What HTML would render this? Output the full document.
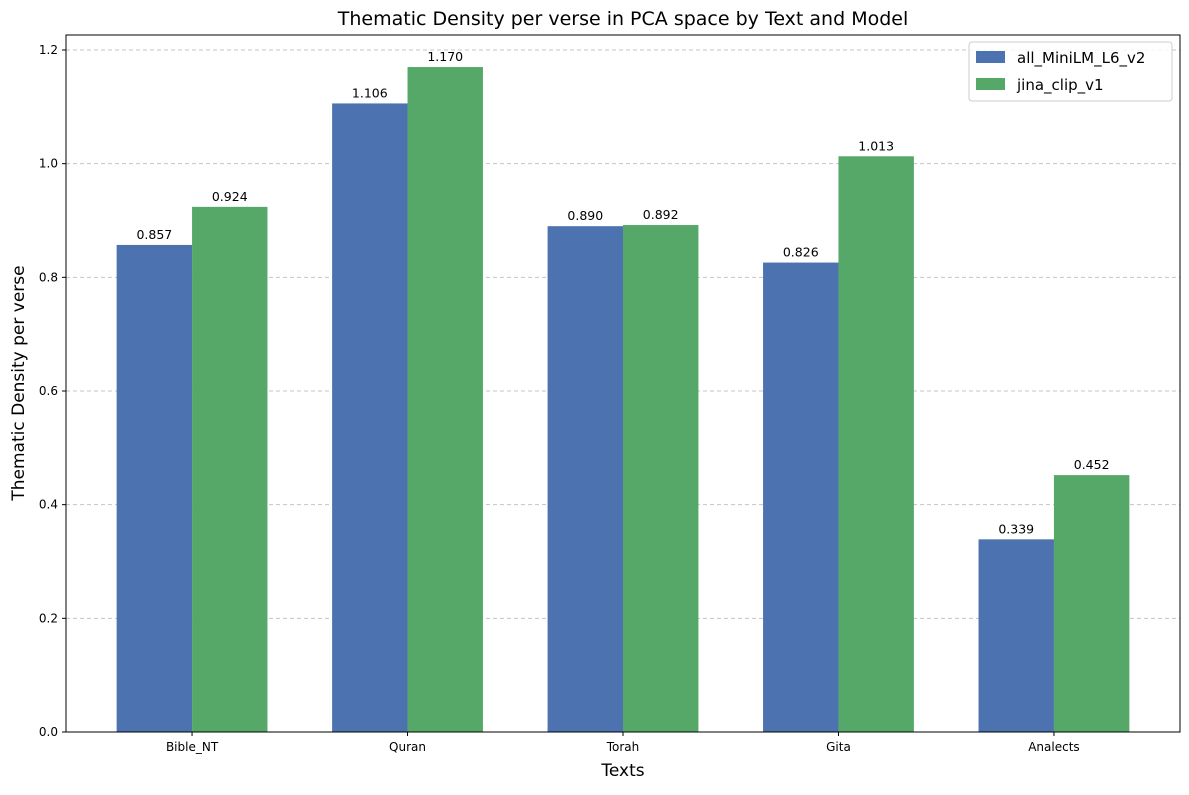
<!DOCTYPE html>
<html><head><meta charset="utf-8"><style>
body{margin:0;background:#fff;font-family:"Liberation Sans","DejaVu Sans",sans-serif;}
svg text{font-family:"DejaVu Sans","Liberation Sans",sans-serif;}
</style></head><body>
<svg id="chart" width="1189" height="790" xmlns="http://www.w3.org/2000/svg">
<rect width="1189" height="790" fill="#fff"/>
<g id="grid"></g><g id="bars"></g><g id="axes"></g>
<text x="623" y="25" font-size="19" text-anchor="middle">Thematic Density per verse in PCA space by Text and Model</text>
<text x="623" y="776" font-size="17" text-anchor="middle">Texts</text>
<text transform="translate(24,383) rotate(-90)" font-size="17" text-anchor="middle">Thematic Density per verse</text>
<g>
<rect x="969" y="42" width="203" height="59" fill="#fff" fill-opacity="0.8" stroke="#ccc" rx="3"/>
<rect x="976" y="51" width="29" height="12" fill="#4c72b0"/>
<text x="1017" y="63" font-size="15">all_MiniLM_L6_v2</text>
<rect x="976" y="78" width="29" height="12" fill="#55a868"/>
<text x="1017" y="90" font-size="15">jina_clip_v1</text>
</g>
</svg>
<script>
const categories=["Bible_NT","Quran","Torah","Gita","Analects"];
const seriesA=[0.857,1.106,0.890,0.826,0.339];
const seriesB=[0.924,1.170,0.892,1.013,0.452];
const yTicks=[0,0.2,0.4,0.6,0.8,1.0,1.2];
const NS="http://www.w3.org/2000/svg";
const L=66,R=1180,T=35,B=732;
const xs=i=>L+(i+0.585)*(R-L)/5.17;
const ys=v=>B-v*(B-50)/1.2;
const bw=0.35*(R-L)/5.17;
function mk(tag,attrs,parent,txt){const e=document.createElementNS(NS,tag);for(const k in attrs)e.setAttribute(k,attrs[k]);if(txt!==undefined)e.textContent=txt;document.getElementById(parent).appendChild(e);return e;}
yTicks.forEach(t=>{
 const y=ys(t);
 if(t>0){const g=mk('line',{x1:L,x2:R,y1:y,y2:y,stroke:'#c4c4c4','stroke-dasharray':'4,3'},'grid');
 
 }
 const tk=mk('line',{x1:L-4,x2:L,y1:y,y2:y,stroke:'#000'},'axes');
 
 
 const tl=mk('text',{x:L-8,y:y+4,'font-size':12,'text-anchor':'end'},'axes',t.toFixed(1));
 
 
});
categories.forEach((c,i)=>{
 const cx=xs(i);
 [[seriesA[i],'#4c72b0',cx-bw,'minilm'],[seriesB[i],'#55a868',cx,'jina']].forEach(([v,col,x,n])=>{
  const r=mk('rect',{x:x,y:ys(v),width:bw,height:B-ys(v),fill:col},'bars');
  
  
  const t=mk('text',{x:x+bw/2,y:ys(v)-6,'font-size':12.5,'text-anchor':'middle'},'bars',v.toFixed(3));
  
  
 });
 const tk=mk('line',{x1:cx,x2:cx,y1:B,y2:B+4,stroke:'#000'},'axes');
 
 
 const tl=mk('text',{x:cx,y:B+19,'font-size':12,'text-anchor':'middle'},'axes',c);
 
 
});
const fr=mk('rect',{x:L,y:T,width:R-L,height:B-T,fill:'none',stroke:'#000','stroke-width':1},'axes');


</script>
</body></html>
